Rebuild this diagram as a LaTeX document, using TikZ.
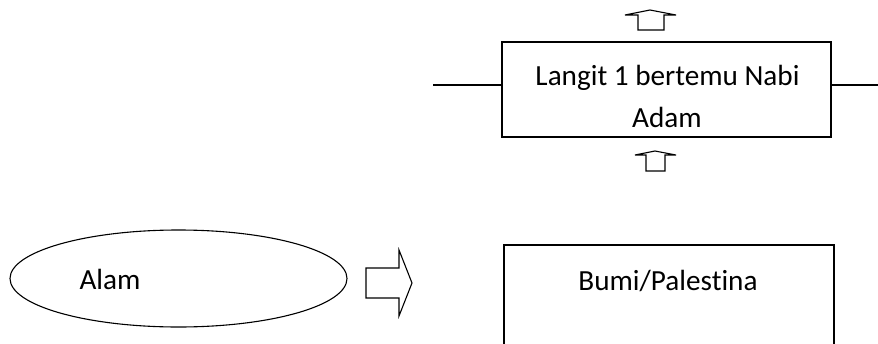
\documentclass[tikz,border=0pt]{standalone}
\usepackage{fontspec}
\setmainfont[Ligatures = NoCommon]{Carlito}
\usetikzlibrary{shapes.geometric}

\begin{document}
\begin{tikzpicture}[x = 1pt, y = -1pt, line width = 1.1pt,
  box/.style = {draw, rectangle, inner sep = 0pt},
  lbl/.style = {font = \fontsize{29.2}{41}\selectfont, inner sep = 0pt, anchor = base}]
\useasboundingbox (0,0) rectangle (878,343);

% langit
\node[box, minimum width = 329pt, minimum height = 95pt] (LANGIT) at (666.5,89.5) {};
\node[lbl] (T1) at (667.5,85) {Langit 1 bertemu Nabi};
\node[lbl] (T2) at (667,127) {Adam};
\coordinate (LL) at (433,85);
\coordinate (LR) at (878,85);
\draw (LL) -- (LL -| LANGIT.west)
(LR -| LANGIT.east) -- (LR);

% up arrows
\draw (638,30) -- (638,15) -- (625,15) -- (650,10) -- (676,15) -- (664,15) -- (664,30) -- cycle;
\draw (646,171) -- (646,155) -- (635,155) -- (655,151) -- (676,155) -- (665,155) -- (665,171) -- cycle;

% alam
\node[draw, ellipse, inner sep = 0pt, minimum width = 337pt, minimum height = 97pt] (ALAM) at (178.5,278.5) {};
\node[lbl] (T3) at (110,289) {Alam};
\draw (366,268) -- (399,268) -- (399,250) -- (412,283) -- (399,316) -- (399,298) -- (366,298) -- cycle;

% bumi
\node[box, line width = 1.8pt, minimum width = 330pt, minimum height = 140pt, anchor = north west] (BUMI) at (503,244) {};
\node[lbl] (T4) at (668,290) {Bumi/Palestina};
\end{tikzpicture}
\end{document}
